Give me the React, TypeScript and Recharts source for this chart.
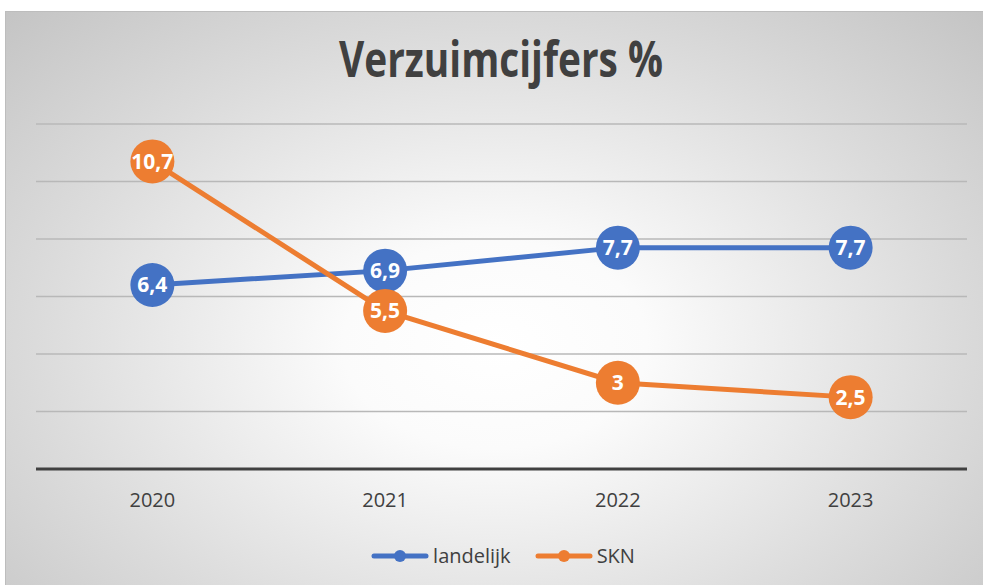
import React from 'react';
import {CartesianGrid, LabelList, Line, LineChart, XAxis, YAxis} from 'recharts';

const years = ['2020', '2021', '2022', '2023'];
const landelijk = [6.4, 6.9, 7.7, 7.7];
const skn = [10.7, 5.5, 3, 2.5];
const yTicks = [0, 2, 4, 6, 8, 10, 12];

const series = [
    {key: 'landelijk', color: '#4472C4', values: landelijk},
    {key: 'SKN', color: '#ED7D31', values: skn},
];

const data = years.map((year, i) => {
    const row: Record<string, string | number> = {year};
    series.forEach(s => {
        row[s.key] = s.values[i];
    });
    return row;
});

const W = 978;
const H = 574;
const font = '"Open Sans", sans-serif';
const textColor = '#404040';

const formatValue = (v: number) => String(v).replace('.', ',');

const LegendRow = () => (
    <div style={{
        position: 'absolute', left: 0, top: 530, width: W, paddingLeft: 16, boxSizing: 'border-box',
        display: 'flex', justifyContent: 'center', alignItems: 'center', gap: 24,
        fontFamily: font, fontSize: 20, color: textColor,
    }}>
        {series.map(s => (
            <div key={s.key} style={{display: 'flex', alignItems: 'center'}}>
                <svg width={58} height={14}>
                    <line x1={3} y1={7} x2={55} y2={7} stroke={s.color} strokeWidth={5} strokeLinecap="round"/>
                    <circle cx={29} cy={7} r={6} fill={s.color}/>
                </svg>
                <span style={{marginLeft: 4}}>{s.key}</span>
            </div>
        ))}
    </div>
);

export default function App() {
    return (
        <div style={{
            position: 'absolute', left: 5, top: 11, width: W, height: H, overflow: 'hidden',
            borderTop: '1px solid #bdbdbd', borderLeft: '1px solid #bdbdbd',
            background: 'radial-gradient(ellipse farthest-corner at 50% 58%, #ffffff 0%, #fbfbfb 22%, #dcdcdc 65%, #c4c4c4 100%)',
        }}>
            <svg width={W} height={100} style={{position: 'absolute', left: 0, top: 0}}>
                <text x={495} y={65} textAnchor="middle" fontFamily={font} fontWeight="bold" fontSize={50}
                      fill={textColor} textLength={324} lengthAdjust="spacingAndGlyphs">
                    Verzuimcijfers %
                </text>
            </svg>
            <LineChart width={W} height={H} data={data} margin={{top: 112, right: 17, left: 30, bottom: 77}}>
                <CartesianGrid vertical={false} stroke="#b8b8b8" strokeWidth={1.5}/>
                <XAxis dataKey="year" scale="band" height={40} tickLine={false} tickMargin={18}
                       axisLine={{stroke: '#404040', strokeWidth: 3}}
                       tick={{fontFamily: font, fontSize: 20, fill: textColor}}/>
                <YAxis hide domain={[0, 12]} ticks={yTicks}/>
                {series.map(s => (
                    <Line key={s.key} dataKey={s.key} stroke={s.color} strokeWidth={5}
                          dot={{r: 22, fill: s.color, stroke: 'none'}} activeDot={false}
                          isAnimationActive={false}>
                        <LabelList dataKey={s.key} position="center" formatter={(v: number) => formatValue(v)}
                                   fill="#ffffff" fontFamily={font} fontWeight="bold" fontSize={21}/>
                    </Line>
                ))}
            </LineChart>
            <LegendRow/>
        </div>
    );
}
